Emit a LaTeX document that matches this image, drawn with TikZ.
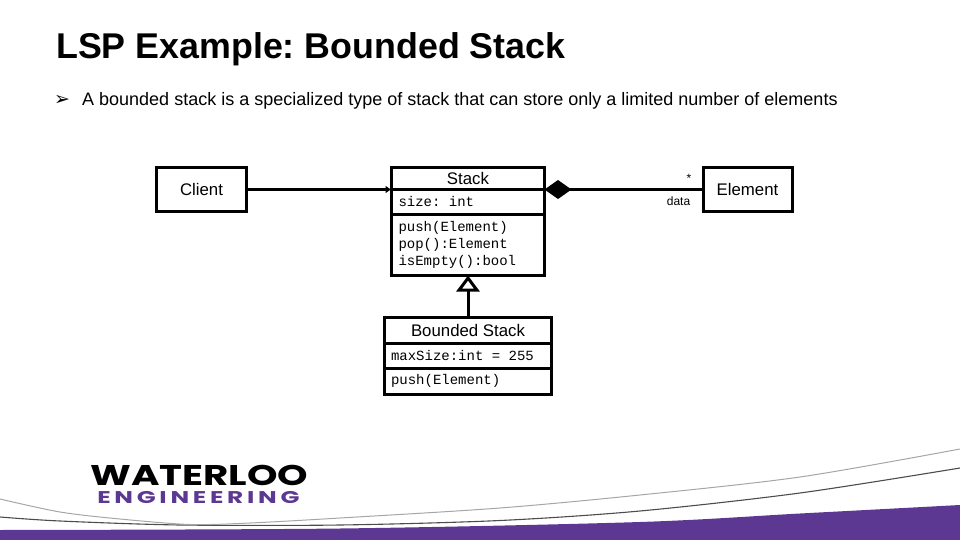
\documentclass[tikz,border=0pt]{standalone}
\usepackage{fontspec}
\setmainfont{Liberation Sans}
\setmonofont{Liberation Mono}
\newfontfamily\bulletfont{DejaVu Sans}
\newfontfamily\logofont{Poppins}
\newfontfamily\logowidefont[LetterSpace=15]{Poppins}
\usetikzlibrary{arrows.meta}
\definecolor{wpurple}{HTML}{5D3893}
\frenchspacing
\tikzset{
	classbox/.style={draw, line width=3pt, inner sep=0pt, outer sep=0pt, font=\fontsize{16.8}{18}\selectfont},
	membox/.style={classbox, align=flush left, text width=#1, font=\fontsize{14}{17}\selectfont\ttfamily},
	plaintext/.style={inner sep=0pt, anchor=base west},
	smalltext/.style={inner sep=0pt, font=\fontsize{12}{14}\selectfont},
	link/.style={line width=3pt}
}

\begin{document}
\begin{tikzpicture}[x=1pt, y=-1pt]
			%%%%% START %%%%%
			\useasboundingbox (0, 0) rectangle (960, 540);
			
			\node[plaintext, font=\fontsize{35.8}{40}\selectfont\bfseries] (title) at (56, 59) {LSP Example: Bounded Stack};
			\node[plaintext, font=\fontsize{19}{20}\selectfont\bulletfont] (bullet) at (54, 106) {➢};
			\node[plaintext, font=\fontsize{18}{20}\selectfont] (subtitle) at (82, 105.5) {A bounded stack is a specialized type of stack that can store only a limited number of elements};
			
			\node[classbox, minimum width=90pt, minimum height=44pt] (client) at (201.5, 189.5) {\raisebox{-0.7pt}{Client}};
			\node[classbox, minimum width=89pt, minimum height=44pt] (element) at (747.5, 189.5) {\raisebox{-0.7pt}{Element}};
			
			\node[classbox, minimum width=153pt, minimum height=22pt] (stackname) at (468, 178.5) {Stack};
			\node[membox=145pt, minimum width=153pt, minimum height=24.5pt] (stackattr) at (468, 201.75) {\hspace*{3pt}size: int};
			\node[membox=145pt, minimum width=153pt, minimum height=61pt] (stackops) at (468, 245) {\hspace*{3pt}push(Element)\\\hspace*{3pt}pop():Element\\\hspace*{3pt}isEmpty():bool};
			
			\node[classbox, minimum width=167pt, minimum height=26pt] (boundedname) at (468, 330) {Bounded Stack};
			\node[membox=160pt, minimum width=167pt, minimum height=25pt] (boundedattr) at (468, 355.5) {\hspace*{3pt}maxSize:int = 255};
			\node[membox=160pt, minimum width=167pt, minimum height=26pt] (boundedops) at (468, 381) {\hspace*{3pt}push(Element)};
			
			\node[smalltext] (star) at (689, 178) {*};
			\node[smalltext] (data) at (678.5, 201.5) {data};
			
			\draw[link, -{Latex[length=6pt, width=8pt]}] (client.east) -- (stackname.south west);
			\draw[link, {Diamond[length=27pt, width=19pt]}-] (stackname.south east) -- (element.west);
			\draw[link, -{Triangle[open, length=16pt, width=23pt]}] (boundedname.north) -- (stackops.south);
			
			%% footer swoosh
			\fill[wpurple] (0, 540) -- plot[smooth] coordinates {(0, 530) (340, 528.5) (640, 522) (800, 513.5) (960, 505)} -- (960, 540) -- cycle;
			\draw[black!70, line width=1.1pt] plot[smooth] coordinates {(0, 517) (60, 521) (180, 525) (340, 525) (500, 520.5) (640, 511) (800, 493) (960, 468)};
			\draw[black!35, line width=1pt] plot[smooth] coordinates {(0, 499) (60, 512) (120, 519) (190, 524.5) (250, 523) (340, 518) (500, 508) (640, 495) (800, 477) (960, 449)};
			
			\node[inner sep=0pt, anchor=base west, xscale=1.36, transform shape, font=\fontsize{28.5}{30}\selectfont\logofont\bfseries] (waterloo) at (90, 485) {WATERLOO};
			\node[inner sep=0pt, anchor=base west, xscale=1.46, transform shape, text=wpurple, font=\fontsize{17}{18}\selectfont\logowidefont\bfseries] (engineering) at (97, 503) {ENGINEERING};
			%%%%% END %%%%%
\end{tikzpicture}
\end{document}
